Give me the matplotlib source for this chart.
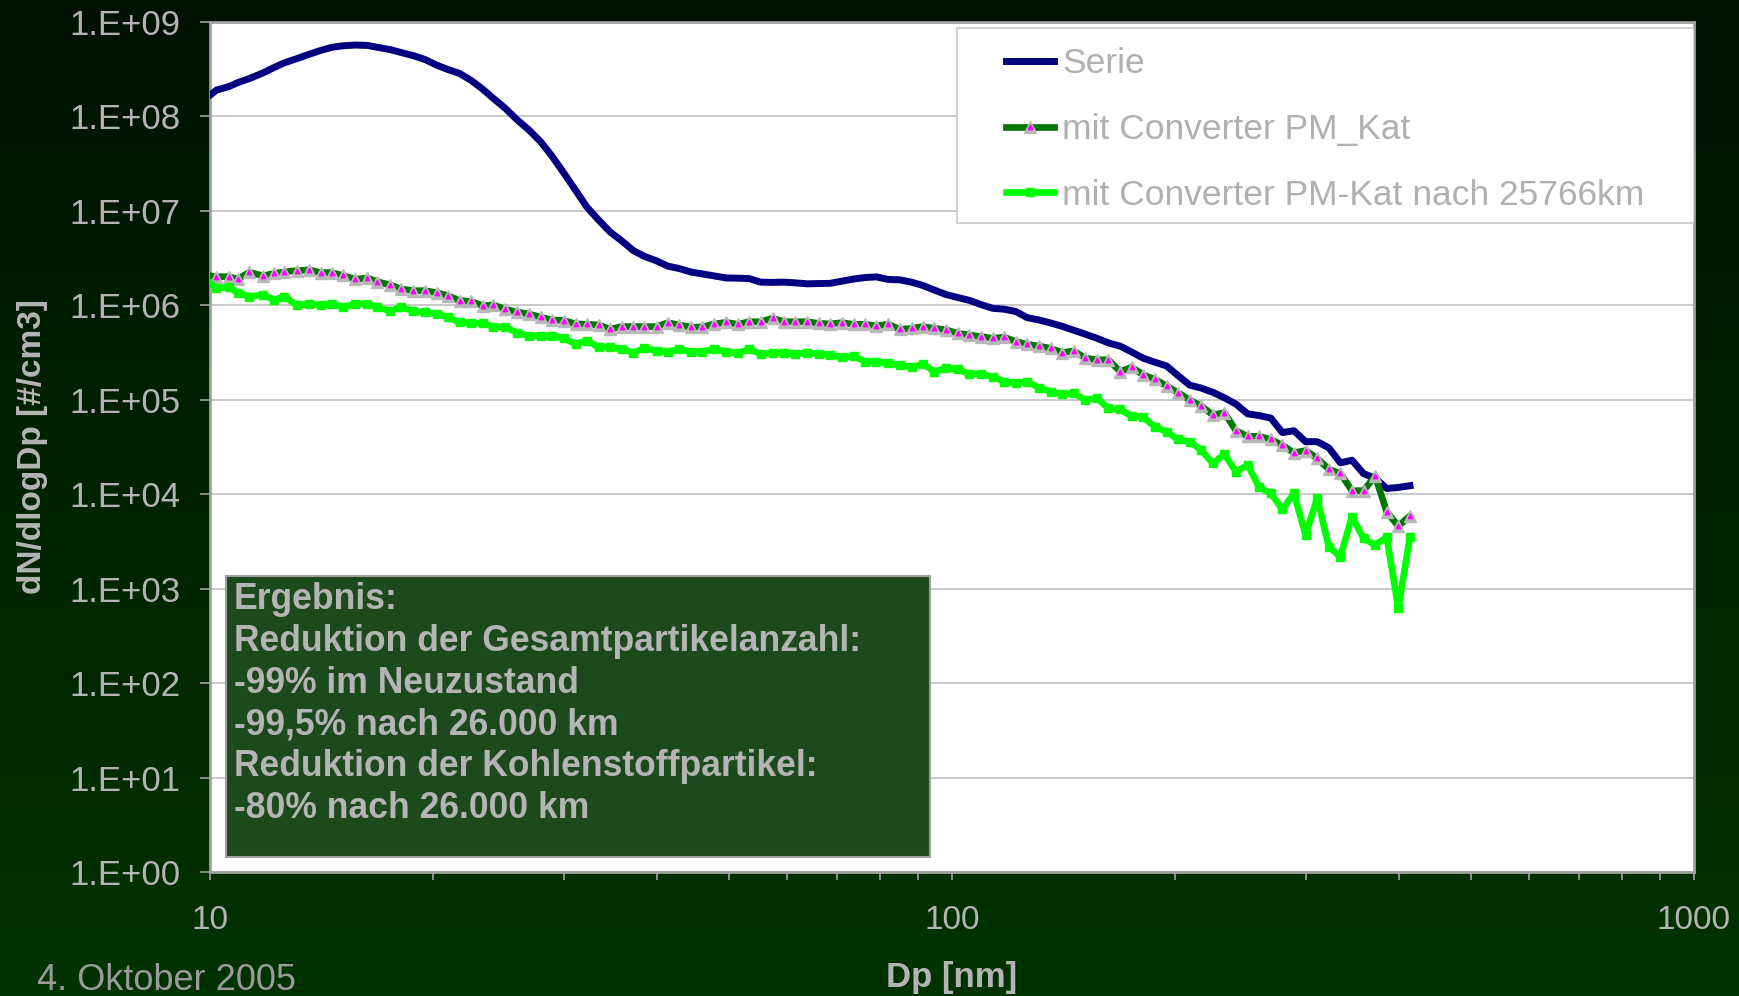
import numpy as np
import matplotlib
matplotlib.use("Agg")
import matplotlib.pyplot as plt
from matplotlib.patches import Rectangle
from matplotlib.colors import LinearSegmentedColormap
from matplotlib.ticker import LogLocator, NullFormatter, NullLocator

plt.rcParams['font.family'] = ['Liberation Sans', 'DejaVu Sans']

# SMPS channel mid points (nm)
dp_nm = [9.82, 10.2, 10.6, 10.9, 11.3, 11.8, 12.2, 12.6, 13.1, 13.6,
         14.1, 14.6, 15.1, 15.7, 16.3, 16.8, 17.5, 18.1, 18.8, 19.5,
         20.2, 20.9, 21.7, 22.5, 23.3, 24.1, 25.0, 25.9, 26.9, 27.9,
         28.9, 30.0, 31.1, 32.2, 33.4, 34.6, 35.9, 37.2, 38.5, 40.0,
         41.4, 42.9, 44.5, 46.1, 47.8, 49.6, 51.4, 53.3, 55.2, 57.3,
         59.4, 61.5, 63.8, 66.1, 68.5, 71.0, 73.7, 76.4, 79.1, 82.0,
         85.1, 88.2, 91.4, 94.7, 98.2, 101.8, 105.5, 109.4, 113.4, 117.6,
         121.9, 126.3, 131.0, 135.8, 140.7, 145.9, 151.2, 156.8, 162.5, 168.5,
         174.7, 181.1, 187.7, 194.6, 201.7, 209.1, 216.7, 224.7, 232.9, 241.4,
         250.3, 259.5, 269.0, 278.8, 289.0, 299.6, 310.6, 322.0, 333.8, 346.0,
         358.7, 371.8, 385.4, 399.5, 414.2]

# dN/dlogDp [#/cm3]
serie = [1.5e8, 1.9e8, 2.07e8, 2.28e8, 2.52e8, 2.9e8, 3.3e8, 3.7e8, 4.1e8, 4.55e8,
         5.0e8, 5.4e8, 5.6e8, 5.7e8, 5.65e8, 5.4e8, 5.1e8, 4.75e8, 4.4e8, 4.0e8,
         3.5e8, 3.15e8, 2.85e8, 2.4e8, 1.95e8, 1.55e8, 1.22e8, 9.3e7, 7.2e7, 5.4e7,
         3.8e7, 2.5e7, 1.65e7, 1.1e7, 8.0e6, 6.0e6, 4.8e6, 3.8e6, 3.3e6, 2.95e6,
         2.6e6, 2.45e6, 2.25e6, 2.15e6, 2.05e6, 1.95e6, 1.94e6, 1.92e6, 1.76e6, 1.75e6,
         1.76e6, 1.73e6, 1.69e6, 1.7e6, 1.71e6, 1.8e6, 1.9e6, 1.97e6, 2.0e6, 1.88e6,
         1.86e6, 1.76e6, 1.62e6, 1.45e6, 1.3e6, 1.21e6, 1.13e6, 1.02e6, 9.3e5, 9.1e5,
         8.6e5, 7.4e5, 7.0e5, 6.5e5, 6.0e5, 5.45e5, 4.95e5, 4.48e5, 4.0e5, 3.7e5,
         3.2e5, 2.75e5, 2.5e5, 2.28e5, 1.8e5, 1.43e5, 1.33e5, 1.2e5, 1.05e5, 9.0e4,
         7.1e4, 6.8e4, 6.4e4, 4.5e4, 4.7e4, 3.6e4, 3.6e4, 3.1e4, 2.15e4, 2.29e4,
         1.65e4, 1.48e4, 1.15e4, 1.18e4, 1.23e4]

pm_kat = [2.1e6, 2.01e6, 2.01e6, 1.9e6, 2.24e6, 2.05e6, 2.18e6, 2.26e6, 2.33e6, 2.37e6,
          2.22e6, 2.22e6, 2.07e6, 1.89e6, 1.95e6, 1.78e6, 1.64e6, 1.49e6, 1.43e6, 1.43e6,
          1.36e6, 1.27e6, 1.12e6, 1.10e6, 9.9e5, 1.01e6, 9.1e5, 8.5e5, 8.1e5, 7.5e5,
          7.0e5, 6.9e5, 6.35e5, 6.3e5, 6.2e5, 5.6e5, 5.95e5, 5.95e5, 5.95e5, 5.95e5,
          6.55e5, 6.2e5, 5.86e5, 5.9e5, 6.35e5, 6.6e5, 6.3e5, 6.7e5, 6.7e5, 7.3e5,
          6.7e5, 6.7e5, 6.7e5, 6.45e5, 6.35e5, 6.55e5, 6.3e5, 6.3e5, 6.05e5, 6.3e5,
          5.56e5, 5.7e5, 5.95e5, 5.7e5, 5.5e5, 5.06e5, 4.86e5, 4.66e5, 4.48e5, 4.6e5,
          4.13e5, 3.87e5, 3.7e5, 3.51e5, 3.16e5, 3.29e5, 2.76e5, 2.65e5, 2.65e5, 1.99e5,
          2.21e5, 1.83e5, 1.65e5, 1.4e5, 1.19e5, 9.95e4, 8.6e4, 6.9e4, 7.3e4, 4.7e4,
          4.1e4, 4.1e4, 3.8e4, 3.3e4, 2.75e4, 2.9e4, 2.4e4, 1.84e4, 1.66e4, 1.09e4,
          1.09e4, 1.56e4, 6.5e3, 4.6e3, 5.9e3]

pm_kat_25766 = [1.95e6, 1.52e6, 1.56e6, 1.36e6, 1.24e6, 1.29e6, 1.14e6, 1.24e6, 1.0e6, 1.03e6,
                1.0e6, 1.03e6, 9.6e5, 1.03e6, 1.03e6, 9.6e5, 8.7e5, 9.6e5, 8.7e5, 8.4e5,
                8.1e5, 7.5e5, 6.6e5, 6.45e5, 6.45e5, 5.95e5, 5.9e5, 5.15e5, 4.75e5, 4.75e5,
                4.75e5, 4.48e5, 3.9e5, 4.23e5, 3.6e5, 3.62e5, 3.43e5, 3.15e5, 3.5e5, 3.31e5,
                3.23e5, 3.43e5, 3.23e5, 3.23e5, 3.45e5, 3.23e5, 3.11e5, 3.43e5, 3.06e5, 3.11e5,
                3.15e5, 3.06e5, 3.15e5, 3.06e5, 3.0e5, 2.82e5, 2.9e5, 2.54e5, 2.54e5, 2.44e5,
                2.34e5, 2.21e5, 2.39e5, 1.99e5, 2.16e5, 2.1e5, 1.88e5, 1.87e5, 1.76e5, 1.56e5,
                1.5e5, 1.56e5, 1.34e5, 1.22e5, 1.15e5, 1.17e5, 1.0e5, 1.04e5, 8.1e4, 7.9e4,
                6.7e4, 6.5e4, 5.2e4, 4.6e4, 3.8e4, 3.6e4, 2.93e4, 2.12e4, 2.66e4, 1.73e4,
                2.04e4, 1.18e4, 1.02e4, 6.9e3, 1.02e4, 3.7e3, 9.1e3, 2.78e3, 2.18e3, 5.8e3,
                3.4e3, 2.9e3, 3.5e3, 6.2e2, 3.55e3]

series_labels = ["Serie", "mit Converter PM_Kat", "mit Converter PM-Kat nach 25766km"]
ytick_vals = [1e0, 1e1, 1e2, 1e3, 1e4, 1e5, 1e6, 1e7, 1e8, 1e9]
ytick_labels = ["1.E+00", "1.E+01", "1.E+02", "1.E+03", "1.E+04",
                "1.E+05", "1.E+06", "1.E+07", "1.E+08", "1.E+09"]
xtick_vals = [10, 100, 1000]
xtick_labels = ["10", "100", "1000"]
result_lines = ["Ergebnis:",
                "Reduktion der Gesamtpartikelanzahl:",
                "-99% im Neuzustand",
                "-99,5% nach 26.000 km",
                "Reduktion der Kohlenstoffpartikel:",
                "-80% nach 26.000 km"]

grey = "#b4b4b4"

fig = plt.figure(figsize=(17.4, 9.96), dpi=100)

# dark green gradient background
bg = fig.add_axes([0, 0, 1, 1], zorder=-10)
cmap = LinearSegmentedColormap.from_list("bg", ["#001200", "#003300"])
bg.imshow(np.linspace(0, 1, 256).reshape(-1, 1), aspect="auto", cmap=cmap,
          extent=[0, 1, 0, 1])
bg.axis("off")

ax = fig.add_axes([210 / 1740, 1 - 872 / 996, 1484 / 1740, 850 / 996])
ax.set_facecolor("white")
ax.set_xscale("log")
ax.set_yscale("log")
ax.set_xlim(10, 1000)
ax.set_ylim(1, 1e9)

l_serie, = ax.plot(dp_nm, serie, color="#000080", lw=5, zorder=3)
l_kat, = ax.plot(dp_nm, pm_kat, color="#007800", lw=4.8, marker="^", ms=8,
                 mfc="#b8b8b8", mec="#b8b8b8", zorder=3)
l_dot, = ax.plot(dp_nm, pm_kat, ls="none", marker="^", ms=3.2,
                 color="#ff00ff", mec="#ff00ff", zorder=3)
l_new, = ax.plot(dp_nm, pm_kat_25766, color="#00ff00", lw=4.8, marker="s",
                 ms=6, zorder=3)

ax.yaxis.grid(True, color="#c0c0c0", lw=1.2)
ax.set_axisbelow(True)
ax.set_yticks(ytick_vals, ytick_labels)
ax.yaxis.set_minor_locator(NullLocator())
ax.set_xticks(xtick_vals, xtick_labels)
ax.xaxis.set_minor_locator(LogLocator(subs=range(2, 10)))
ax.xaxis.set_minor_formatter(NullFormatter())
ax.tick_params(axis="x", which="both", direction="out", length=6, width=1.2,
               color="#a0a0a0", pad=18, labelsize=24, labelcolor=grey)
ax.tick_params(axis="y", which="major", direction="out", length=7, width=1.2,
               color="#a0a0a0", pad=14, labelsize=25, labelcolor=grey)
for s in ax.spines.values():
    s.set_color("#a0a0a0")
    s.set_linewidth(2)

ax.set_xlabel("Dp [nm]", fontsize=25, fontweight="bold", color=grey)
ax.xaxis.set_label_coords(0.5, -0.105)
ax.set_ylabel("dN/dlogDp [#/cm3]", fontsize=24, fontweight="bold", color=grey)
ax.yaxis.set_label_coords(-0.109, 0.5)

# legend box
ax.add_patch(Rectangle((0.5034, 0.7635), 0.4966, 0.2294, transform=ax.transAxes,
                       facecolor="white", edgecolor="#c8c8c8", lw=1.2, zorder=5))
leg = ax.legend([l_serie, (l_kat, l_dot), l_new], series_labels,
                loc="upper left", bbox_to_anchor=(0.5364, 0.970), frameon=False,
                fontsize=25.5, handlelength=1.36, handletextpad=0.23,
                labelspacing=0.92, borderpad=0, borderaxespad=0)
leg.set_zorder(6)
for t in leg.get_texts():
    t.set_color("#b0b0b0")

# result box
ax.add_patch(Rectangle((0.0108, 0.0176), 0.4744, 0.3306, transform=ax.transAxes,
                       facecolor="#1d4a1d", edgecolor="#a0a0a0", lw=1.5, zorder=6))
for i, line in enumerate(result_lines):
    ax.text(0.0162, 0.3202 - i * 0.0490, line, transform=ax.transAxes,
            ha="left", va="center", fontsize=25.6, fontweight="bold",
            color=grey, zorder=7)

fig.text(0.0213, 0.016, "4. Oktober 2005", fontsize=26, color="#9a9a9a",
         va="center", ha="left")

fig.savefig("out.png", dpi=100)
